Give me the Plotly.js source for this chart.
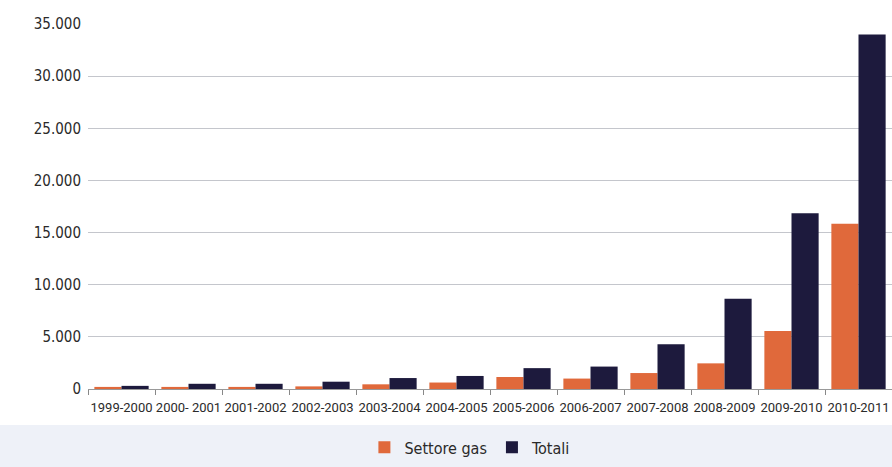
<!DOCTYPE html>
<html>
<head>
<meta charset="utf-8">
<script src="https://cdn.plot.ly/plotly-3.0.1.min.js"></script>
<style>html,body{margin:0;padding:0;background:#fff;}#chart{width:892px;height:467px;}</style>
</head>
<body>
<div id="chart"></div>
<script>
const categories = ["1999-2000","2000- 2001","2001-2002","2002-2003","2003-2004","2004-2005","2005-2006","2006-2007","2007-2008","2008-2009","2009-2010","2010-2011"];
const settoreGas = [200, 200, 200, 250, 450, 620, 1150, 1000, 1530, 2460, 5560, 15850];
const totali = [300, 500, 500, 700, 1050, 1250, 2000, 2150, 4300, 8660, 16850, 34000];
const yTickVals = [0, 5000, 10000, 15000, 20000, 25000, 30000, 35000];
const yTickText = ["0", "5.000", "10.000", "15.000", "20.000", "25.000", "30.000", "35.000"];

const FONT = '"DejaVu Sans Condensed", "Liberation Sans Narrow", Roboto, sans-serif';
const XFONT = 'Roboto, "DejaVu Sans Condensed", sans-serif';

const data = [
  {type: 'bar', name: 'Settore gas', x: categories, y: settoreGas, marker: {color: '#E0693B'}},
  {type: 'bar', name: 'Totali', x: categories, y: totali, marker: {color: '#1D1A3D'}}
];

const layout = {
  width: 892, height: 467,
  margin: {l: 88, r: 0, t: 24, b: 78},
  paper_bgcolor: '#ffffff', plot_bgcolor: 'rgba(0,0,0,0)',
  font: {family: FONT, size: 16, color: '#2a2a2a'},
  barmode: 'group', bargap: 0.19, bargroupgap: 0,
  showlegend: true,
  legend: {orientation: 'h', x: 0.475, xanchor: 'center', y: -0.16, yanchor: 'middle',
           font: {family: FONT, size: 16, color: '#2a2a2a'}, itemwidth: 30, tracegroupgap: 0,
           bgcolor: 'rgba(0,0,0,0)'},
  xaxis: {type: 'category', range: [-0.5, 11.5], tickson: 'boundaries', ticks: 'outside',
          tickangle: 0, ticklen: 5, tickcolor: '#888', showline: true, linecolor: '#999', linewidth: 1,
          ticklabelstandoff: 6,
          showgrid: false, tickfont: {family: XFONT, size: 13, color: '#2a2a2a'}, automargin: false},
  yaxis: {range: [0, 35000], tickvals: yTickVals, ticktext: yTickText, showgrid: true,
          gridcolor: '#c4c6cc', gridwidth: 1, zeroline: false, ticks: '', ticklabelstandoff: 6,
          tickfont: {family: FONT, size: 15, color: '#2a2a2a'}, automargin: false},
  shapes: [
    {type: 'rect', xref: 'paper', yref: 'paper', x0: -0.12, x1: 1.01, y0: -0.0986, y1: -0.22,
     fillcolor: '#eef1f8', line: {width: 0}, layer: 'below'}
  ]
};

Plotly.newPlot('chart', data, layout, {displayModeBar: false, staticPlot: true});
</script>
</body>
</html>
